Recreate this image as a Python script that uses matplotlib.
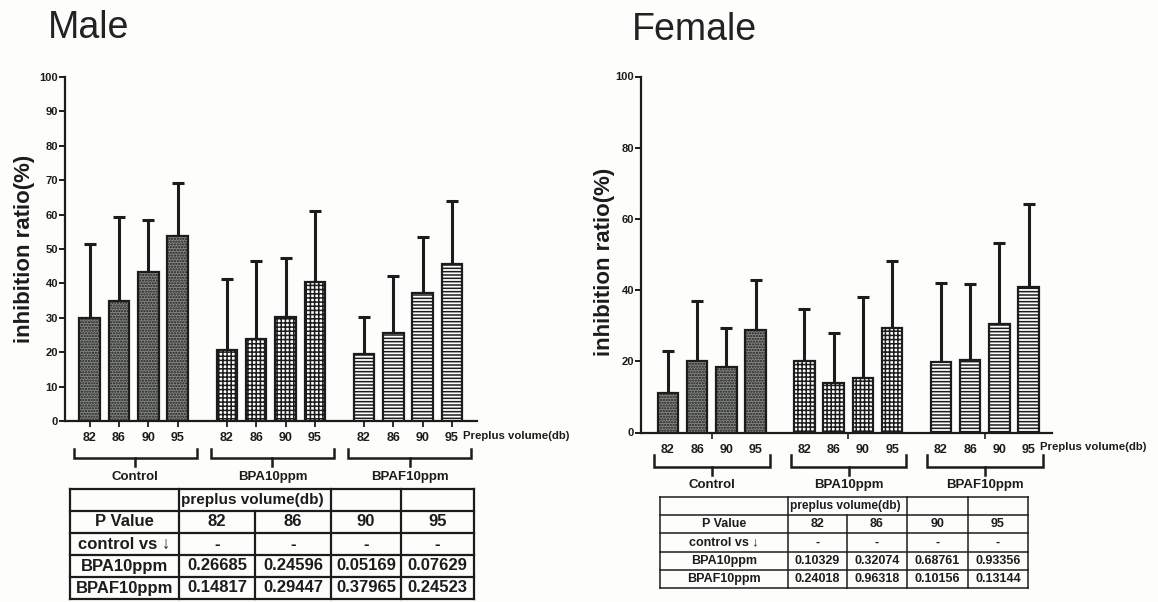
import numpy as np
import matplotlib
matplotlib.use("Agg")
import matplotlib.pyplot as plt

plt.rcParams['font.family'] = ['Liberation Sans', 'DejaVu Sans']
plt.rcParams['hatch.linewidth'] = 1.1

# data
volumes = ["82", "86", "90", "95"]
groups = ["Control", "BPA10ppm", "BPAF10ppm"]

male_control = [30.0, 34.8, 43.3, 53.9]
male_control_sd = [21.4, 24.6, 15.1, 15.2]
male_bpa = [20.6, 23.8, 30.1, 40.4]
male_bpa_sd = [20.8, 22.8, 17.2, 20.6]
male_bpaf = [19.4, 25.5, 37.3, 45.5]
male_bpaf_sd = [10.7, 16.7, 16.2, 18.5]

female_control = [11.1, 20.2, 18.3, 28.8]
female_control_sd = [11.7, 16.7, 11.1, 14.0]
female_bpa = [20.1, 13.8, 15.3, 29.4]
female_bpa_sd = [14.6, 14.2, 22.8, 18.7]
female_bpaf = [19.7, 20.5, 30.6, 40.8]
female_bpaf_sd = [22.3, 21.1, 22.6, 23.4]

# p value tables
row_names = ["BPA10ppm", "BPAF10ppm"]
male_p_bpa = ["0.26685", "0.24596", "0.05169", "0.07629"]
male_p_bpaf = ["0.14817", "0.29447", "0.37965", "0.24523"]
female_p_bpa = ["0.10329", "0.32074", "0.68761", "0.93356"]
female_p_bpaf = ["0.24018", "0.96318", "0.10156", "0.13144"]

INK = "#1c1c1c"
GAP = 4.67
fills = [("#868984", "......"), ("white", "++++"), ("white", "-----")]

W, H = 1158, 602
fig = plt.figure(figsize=(W / 100, H / 100), dpi=100)
fig.patch.set_facecolor("#fdfdfb")


def panel(rect, series, sds, yticks, left_pad, right_pad, bracket, ticks_each):
    ax = fig.add_axes(rect)
    ax.set_facecolor("none")
    pos_all = []
    for g, (vals, sd) in enumerate(zip(series, sds)):
        pos = np.arange(4) + g * GAP
        pos_all.extend(pos)
        fc, hatch = fills[g]
        ax.bar(pos, vals, width=0.7, color=fc, edgecolor=INK, linewidth=1.6,
               hatch=hatch, zorder=3)
        ax.errorbar(pos, vals, yerr=[np.zeros(4), sd], fmt="none", ecolor=INK,
                    elinewidth=2.2, capsize=4, capthick=2.2, zorder=2)
    pos_all = np.array(pos_all)
    ax.set_xlim(pos_all[0] - left_pad, pos_all[-1] + right_pad)
    ax.set_ylim(0, 100)
    ax.set_yticks(yticks)
    ax.set_yticklabels([str(t) for t in yticks], fontsize=8, fontweight="bold",
                       color=INK)
    ax.tick_params(axis="y", length=4, width=1.4, pad=1, colors=INK)
    ax.set_xticks(pos_all)
    ax.set_xticklabels(volumes * 3, fontsize=9, fontweight="bold", color=INK)
    if ticks_each:
        ax.tick_params(axis="x", length=4, width=1.3, pad=4, colors=INK)
    else:
        ax.tick_params(axis="x", length=0, pad=8, colors=INK)
        centers = [(pos_all[4 * g + 1] + pos_all[4 * g + 2]) / 2 for g in range(3)]
        ax.set_xticks(centers, minor=True)
        ax.tick_params(axis="x", which="minor", length=4, width=1.2, colors=INK)
    for s in ["top", "right"]:
        ax.spines[s].set_visible(False)
    for s in ["left", "bottom"]:
        ax.spines[s].set_linewidth(1.6)
        ax.spines[s].set_color(INK)
    ax.set_ylabel("inhibition ratio(%)", fontsize=16, fontweight="bold", color=INK)
    ax.annotate("Preplus volume(db)", xy=(pos_all[-1], 0), xycoords="data",
                xytext=(11, -15), textcoords="offset pixels", fontsize=8.2,
                fontweight="bold", ha="left", va="center", color=INK,
                annotation_clip=False)
    # brackets under each group
    top, bot, tick, lab, lo, hi = bracket
    tr = ax.get_xaxis_transform()
    for g in range(3):
        x0 = pos_all[4 * g] - lo
        x1 = pos_all[4 * g + 3] + hi
        xm = (x0 + x1) / 2
        ax.plot([x0, x0, x1, x1], [top, bot, bot, top], color=INK, lw=1.8,
                transform=tr, clip_on=False, solid_joinstyle="miter")
        ax.plot([xm, xm], [bot, tick], color=INK, lw=1.8, transform=tr,
                clip_on=False)
        ax.text(xm, lab, groups[g], transform=tr, ha="center", va="center",
                fontsize=9.5, fontweight="bold", color=INK)
    return ax


# male panel: axis x 65..477 px, y 421..77 px
ax_m = panel([65 / W, (H - 421) / H, 412 / W, 344 / H],
             [male_control, male_bpa, male_bpaf],
             [male_control_sd, male_bpa_sd, male_bpaf_sd],
             list(range(0, 101, 10)), 0.84, 0.85,
             (-0.081, -0.1075, -0.131, -0.163, 0.53, 0.64), True)
ax_m.yaxis.set_label_coords(-0.073, 0.5)

# female panel: axis x 641..1052 px, y 432..77 px
ax_f = panel([641 / W, (H - 432.5) / H, 411 / W, 356 / H],
             [female_control, female_bpa, female_bpaf],
             [female_control_sd, female_bpa_sd, female_bpaf_sd],
             list(range(0, 101, 20)), 0.92, 0.8,
             (-0.063, -0.097, -0.119, -0.148, 0.46, 0.48), False)
ax_f.yaxis.set_label_coords(-0.063, 0.48)

fig.text(48 / W, 1 - 28 / H, "Male", fontsize=27, color="#222222",
         ha="left", va="center")
fig.text(632 / W, 1 - 30 / H, "Female", fontsize=27, color="#222222",
         ha="left", va="center")

# tables drawn on an overlay in pixel units
ov = fig.add_axes([0, 0, 1, 1])
ov.set_xlim(0, W)
ov.set_ylim(H, 0)
ov.axis("off")


def table(cols, top, rh, p_bpa, p_bpaf, fs, hfs, lw):
    rows = [top + i * rh for i in range(6)]
    for y in rows:
        ov.plot([cols[0], cols[-1]], [y, y], color=INK, lw=lw)
    for j, x in enumerate(cols):
        y0 = rows[1] if j == 2 else rows[0]
        ov.plot([x, x], [y0, rows[-1]], color=INK, lw=lw)
    mid = lambda r: (rows[r] + rows[r + 1]) / 2
    ov.text(cols[1] + 2, mid(0), "preplus volume(db)", fontsize=hfs,
            fontweight="bold", ha="left", va="center", color=INK)
    ov.text((cols[0] + cols[1]) / 2, mid(1), "P Value", fontsize=fs,
            fontweight="bold", ha="center", va="center", color=INK)
    ov.text((cols[0] + cols[1]) / 2, mid(2), "control vs \u2193", fontsize=fs,
            fontweight="bold", ha="center", va="center", color=INK)
    for r, name in enumerate(row_names):
        ov.text((cols[0] + cols[1]) / 2, mid(3 + r), name, fontsize=fs,
                fontweight="bold", ha="center", va="center", color=INK)
    for c in range(4):
        xc = (cols[c + 1] + cols[c + 2]) / 2
        ov.text(xc, mid(1), volumes[c], fontsize=fs, fontweight="bold",
                ha="center", va="center", color=INK)
        ov.text(xc, mid(2), "-", fontsize=fs, fontweight="bold",
                ha="center", va="center", color=INK)
        ov.text(xc, mid(3), p_bpa[c], fontsize=fs, fontweight="bold",
                ha="center", va="center", color=INK)
        ov.text(xc, mid(4), p_bpaf[c], fontsize=fs, fontweight="bold",
                ha="center", va="center", color=INK)


table([70, 179, 255, 331, 401, 474], 489, 22, male_p_bpa, male_p_bpaf,
      12, 11, 1.6)
table([660, 788, 847, 907, 968, 1028], 497, 18.2, female_p_bpa, female_p_bpaf,
      9, 8.6, 1.1)

fig.savefig("out.png", dpi=100, facecolor=fig.get_facecolor())
